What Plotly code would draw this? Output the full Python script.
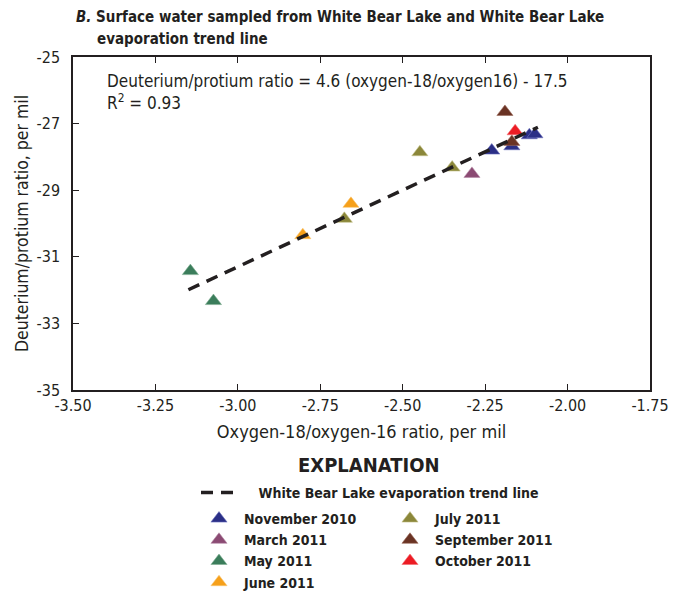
import plotly.graph_objects as go

# ---- data ----
nov2010_x = [-2.230, -2.169, -2.116, -2.099]
nov2010_y = [-27.81, -27.68, -27.35, -27.32]
mar2011_x = [-2.290]
mar2011_y = [-28.51]
may2011_x = [-3.144, -3.074]
may2011_y = [-31.43, -32.33]
jun2011_x = [-2.803, -2.657]
jun2011_y = [-30.35, -29.41]
jul2011_x = [-2.677, -2.448, -2.350]
jul2011_y = [-29.86, -27.86, -28.32]
sep2011_x = [-2.190, -2.169]
sep2011_y = [-26.65, -27.55]
oct2011_x = [-2.159]
oct2011_y = [-27.23]
trend_x = [-3.15, -2.09]
trend_y = [-31.99, -27.11]

x_ticks = [-3.50, -3.25, -3.00, -2.75, -2.50, -2.25, -2.00, -1.75]
y_ticks = [-35, -33, -31, -29, -27, -25]
x_ticktext = [f"{v:.2f}" for v in x_ticks]   # ASCII hyphen, as in the reference
y_ticktext = [f"{v:d}" for v in y_ticks]

FONT = "Liberation Sans Narrow, Arial Narrow, DejaVu Sans Condensed, sans-serif"
INK = "#231f20"

W, H = 681, 593
L, R, T, B = 73, 31, 57, 203
PW, PH = W - L - R, H - T - B


def px(xp):
    return (xp - L) / PW


def py(yp):
    return (H - B - yp) / PH


series = [
    ("November 2010", nov2010_x, nov2010_y, "#2b2f86", "#6f73c0", "legend2"),
    ("March 2011", mar2011_x, mar2011_y, "#8b4a73", "#b58aa6", "legend2"),
    ("May 2011", may2011_x, may2011_y, "#3b7d5b", "#7fae92", "legend2"),
    ("June 2011", jun2011_x, jun2011_y, "#f6a01a", "#f9c46e", "legend2"),
    ("July 2011", jul2011_x, jul2011_y, "#8b873a", "#c8c490", "legend3"),
    ("September 2011", sep2011_x, sep2011_y, "#6a3324", "#9a6a5a", "legend3"),
    ("October 2011", oct2011_x, oct2011_y, "#ec1c24", "#f36b70", "legend3"),
]

fig = go.Figure()
for name, xs, ys, col, edge, lg in series:
    fig.add_trace(go.Scatter(
        x=xs, y=ys, mode="markers", name=name, legend=lg,
        marker=dict(symbol="triangle-up", size=14, color=col,
                    line=dict(width=0.6, color=edge)),
    ))

fig.add_trace(go.Scatter(
    x=trend_x, y=trend_y, mode="lines",
    name="&nbsp;&nbsp;&nbsp;&nbsp;White Bear Lake evaporation trend line",
    legend="legend",
    line=dict(color=INK, width=3.5, dash="12px,8px"),
))

legend_common = dict(
    xanchor="left", yanchor="top",
    bgcolor="rgba(0,0,0,0)", borderwidth=0,
    font=dict(family=FONT, size=14, color=INK, weight="bold"),
    traceorder="normal", orientation="v",
)

fig.update_layout(
    width=W, height=H,
    margin=dict(l=L, r=R, t=T, b=B, autoexpand=False),
    paper_bgcolor="white", plot_bgcolor="white",
    font=dict(family=FONT, color=INK),
    showlegend=True,
    legend=dict(x=px(196), y=py(477), itemwidth=35, **legend_common),
    legend2=dict(x=px(194), y=py(503), itemwidth=40, **legend_common),
    legend3=dict(x=px(385), y=py(503), itemwidth=40, **legend_common),
    xaxis=dict(
        range=[-3.5, -1.75], tickvals=x_ticks, ticktext=x_ticktext,
        ticks="inside", ticklen=6, tickwidth=1, tickcolor=INK,
        showline=True, linecolor=INK, linewidth=1.5, mirror="allticks",
        showgrid=False, zeroline=False,
        tickfont=dict(family=FONT, size=16, color=INK),
        title=dict(text="Oxygen-18/oxygen-16 ratio, per mil",
                   font=dict(family=FONT, size=18, color=INK), standoff=11),
    ),
    yaxis=dict(
        range=[-35, -25], tickvals=y_ticks, ticktext=y_ticktext,
        ticks="inside", ticklen=6, tickwidth=1, tickcolor=INK,
        showline=True, linecolor=INK, linewidth=1.5, mirror=True,
        showgrid=False, zeroline=False, ticklabelstandoff=8,
        tickfont=dict(family=FONT, size=16, color=INK),
        title=dict(text="Deuterium/protium ratio, per mil",
                   font=dict(family=FONT, size=17.5, color=INK), standoff=3),
    ),
    annotations=[
        dict(text="<b><i>B.</i> Surface water sampled from White Bear Lake and White Bear Lake</b>",
             xref="paper", yref="paper", x=px(74), y=py(17), xanchor="left", yanchor="middle",
             showarrow=False, font=dict(family=FONT, size=15, color=INK)),
        dict(text="<b>evaporation trend line</b>",
             xref="paper", yref="paper", x=px(95), y=py(39), xanchor="left", yanchor="middle",
             showarrow=False, font=dict(family=FONT, size=15, color=INK)),
        dict(text="Deuterium/protium ratio = 4.6 (oxygen-18/oxygen16) - 17.5",
             xref="paper", yref="paper", x=px(105), y=py(81), xanchor="left", yanchor="middle",
             showarrow=False, font=dict(family=FONT, size=17, color=INK)),
        dict(text="R<sup>2</sup> = 0.93",
             xref="paper", yref="paper", x=px(105), y=py(102), xanchor="left", yanchor="middle",
             showarrow=False, font=dict(family=FONT, size=17, color=INK)),
        dict(text="<b>EXPLANATION</b>",
             xref="paper", yref="paper", x=px(369), y=py(465), xanchor="center", yanchor="middle",
             showarrow=False, font=dict(family=FONT, size=20, color=INK)),
    ],
)

fig.write_html("out.html")
